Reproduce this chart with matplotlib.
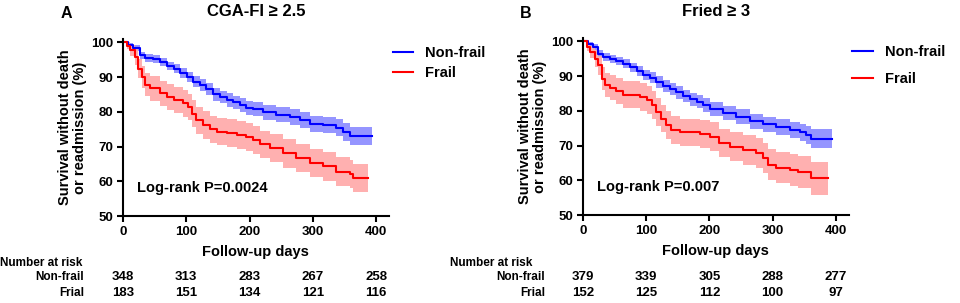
import matplotlib
matplotlib.use('Agg')
import matplotlib.pyplot as plt
from matplotlib.transforms import blended_transform_factory

plt.rcParams['font.family'] = ['Liberation Sans', 'DejaVu Sans']
plt.rcParams['font.weight'] = 'bold'

# ---- panel A: CGA-FI >= 2.5 ----
a_nf_days = [0, 8, 16, 27, 35, 48, 58, 69, 80, 90, 101, 111, 122, 132, 143, 153, 164,
             174, 185, 195, 206, 221, 242, 264, 280, 295, 316, 337, 348, 359, 393]
a_nf_surv = [100, 99.2, 98.4, 96.3, 95.5, 95.1, 94.4, 93.2, 92.4, 91.2, 90, 88.6, 87.6, 86.5, 85,
             84.3, 83.4, 82.7, 81.9, 81.2, 80.8, 79.8, 79.2, 78.5, 77.6, 76.6, 76.1, 75.4, 74.2, 73, 73]
a_nf_ci = [0, 0.6, 0.8, 1.0, 1.1, 1.1, 1.2, 1.2, 1.3, 1.4, 1.5, 1.6, 1.7, 1.7, 1.8,
           1.8, 1.9, 1.9, 2.0, 2.0, 2.0, 2.1, 2.1, 2.2, 2.2, 2.3, 2.3, 2.4, 2.5, 2.7, 2.7]

a_fr_days = [0, 6, 11, 19, 24, 30, 35, 43, 58, 69, 80, 95, 103, 109, 116, 127, 138, 148,
             164, 180, 195, 206, 216, 232, 253, 274, 295, 316, 337, 358, 364, 387]
a_fr_surv = [100, 99, 97.7, 95.8, 92.4, 90, 87.8, 86.7, 85.3, 84.3, 83.4, 82.4, 81.4, 79.5,
             77.6, 76.2, 75, 74.3, 73.8, 73.3, 72.8, 71.9, 70.6, 69.5, 68, 66.7, 65.2, 64.3,
             62.8, 62.1, 61, 61]
a_fr_ci = [0, 1.0, 1.6, 2.2, 2.8, 3.2, 3.4, 3.5, 3.6, 3.7, 3.7, 3.8, 3.8, 3.8, 3.9, 3.9,
           3.9, 4.0, 4.0, 4.0, 4.0, 4.0, 4.0, 4.0, 4.1, 4.1, 4.1, 4.1, 4.1, 4.1, 4.1, 4.1]

# ---- panel B: Fried >= 3 ----
b_nf_days = [0, 8, 16, 24, 32, 43, 53, 64, 74, 85, 95, 106, 116, 127, 138, 148, 159, 169,
             180, 190, 201, 221, 242, 264, 285, 306, 327, 343, 353, 361, 393]
b_nf_surv = [100, 99.2, 98.4, 96.5, 95.5, 95, 94.3, 93.6, 92.6, 91.4, 90.4, 89.5, 88.3, 87.2,
             86.2, 85.3, 84.3, 83.3, 82.6, 81.6, 80.6, 79.4, 78.3, 77, 76.1, 75.4, 74.5, 73.8,
             73.1, 72, 72]
b_nf_ci = [0, 0.6, 0.8, 1.0, 1.1, 1.1, 1.2, 1.2, 1.3, 1.4, 1.5, 1.6, 1.6, 1.7, 1.7, 1.8,
           1.8, 1.9, 1.9, 2.0, 2.0, 2.1, 2.1, 2.2, 2.2, 2.3, 2.4, 2.4, 2.5, 2.7, 2.7]

b_fr_days = [0, 6, 11, 19, 24, 30, 35, 43, 53, 64, 90, 101, 109, 116, 124, 132, 140, 153,
             185, 201, 216, 232, 253, 274, 285, 293, 306, 327, 340, 361, 388]
b_fr_surv = [100, 98.5, 97, 95, 93.1, 89.3, 87.4, 86.6, 85.7, 84.7, 84, 83.1, 81.7, 79.7,
             77.8, 75.9, 74.5, 73.8, 73.3, 72.6, 70.7, 69.7, 68.8, 67.8, 66.4, 64.5, 63.7,
             63.1, 62.4, 60.6, 60.6]
b_fr_ci = [0, 1.2, 1.8, 2.4, 2.8, 3.2, 3.5, 3.6, 3.7, 3.8, 3.9, 4.0, 4.0, 4.0, 4.0, 4.0,
           4.0, 4.0, 4.0, 4.1, 4.1, 4.2, 4.3, 4.3, 4.4, 4.5, 4.5, 4.6, 4.6, 4.7, 4.7]

risk_days = [0, 100, 200, 300, 400]
a_risk_nf = [348, 313, 283, 267, 258]
a_risk_fr = [183, 151, 134, 121, 116]
b_risk_nf = [379, 339, 305, 288, 277]
b_risk_fr = [152, 125, 112, 100, 97]

BLUE = '#0000FF'
RED = '#FF0000'


def draw_curve(ax, days, surv, ci, color, band, label):
    lo = [s - c for s, c in zip(surv, ci)]
    hi = [s + c for s, c in zip(surv, ci)]
    ax.fill_between(days, lo, hi, step='post', color=band, alpha=0.9, linewidth=0)
    ax.step(days, surv, where='post', color=color, lw=1.5, label=label)


def draw_panel(ax, letter, title, pval, nf, fr, risk_nf, risk_fr, label_x, head_x, leg_sp):
    draw_curve(ax, *nf, BLUE, '#8A8AFF', 'Non-frail')
    draw_curve(ax, *fr, RED, '#FFA8A8', 'Frail')
    ax.set_xlim(0, 420)
    ax.set_ylim(50, 101)
    ax.set_xticks([0, 100, 200, 300, 400])
    ax.set_yticks([50, 60, 70, 80, 90, 100])
    for s in ['top', 'right']:
        ax.spines[s].set_visible(False)
    for s in ['left', 'bottom']:
        ax.spines[s].set_linewidth(1.5)
    ax.tick_params(width=1.5, length=4, labelsize=9.5, pad=3)
    ax.set_xlabel('Follow-up days', fontsize=10.5, fontweight='bold', labelpad=5)
    ax.set_ylabel('Survival without death\nor readmission (%)', fontsize=10.5,
                  fontweight='bold', labelpad=3, linespacing=1.05)
    ax.text(22, 58, pval, fontsize=10.5, fontweight='bold', va='center')
    ax.legend(loc='upper left', bbox_to_anchor=(0.965, 1.035), frameon=False,
              fontsize=10.5, handlelength=1.4, handletextpad=0.8, labelspacing=leg_sp)
    fig = ax.figure
    pos = ax.get_position()
    fig.text((pos.x0 + pos.x1) / 2, 0.962, title, fontsize=12, fontweight='bold',
             va='center', ha='center')
    fig.text(pos.x0 - 0.065, 0.955, letter, fontsize=11.5, fontweight='bold', va='center')
    tr = blended_transform_factory(ax.transData, fig.transFigure)
    fig.text(head_x, 0.132, 'Number at risk', fontsize=8.5, fontweight='bold', va='center')
    fig.text(label_x, 0.086, 'Non-frail', fontsize=8.5, fontweight='bold', va='center', ha='right')
    fig.text(label_x, 0.033, 'Frial', fontsize=8.5, fontweight='bold', va='center', ha='right')
    for d, n1, n2 in zip(risk_days, risk_nf, risk_fr):
        ax.text(d, 0.086, str(n1), transform=tr, fontsize=9.5, fontweight='bold',
                va='center', ha='center', clip_on=False)
        ax.text(d, 0.033, str(n2), transform=tr, fontsize=9.5, fontweight='bold',
                va='center', ha='center', clip_on=False)


fig = plt.figure(figsize=(9.6, 3.03), dpi=100)
ax_a = fig.add_axes([0.128, 0.287, 0.277, 0.585])
ax_b = fig.add_axes([0.607, 0.290, 0.277, 0.585])

draw_panel(ax_a, 'A', 'CGA-FI ≥ 2.5', 'Log-rank P=0.0024',
           (a_nf_days, a_nf_surv, a_nf_ci), (a_fr_days, a_fr_surv, a_fr_ci),
           a_risk_nf, a_risk_fr, 0.0875, 0.0, 0.45)
draw_panel(ax_b, 'B', 'Fried ≥ 3', 'Log-rank P=0.007',
           (b_nf_days, b_nf_surv, b_nf_ci), (b_fr_days, b_fr_surv, b_fr_ci),
           b_risk_nf, b_risk_fr, 0.568, 0.469, 0.9)

fig.savefig('out.png', dpi=100)
